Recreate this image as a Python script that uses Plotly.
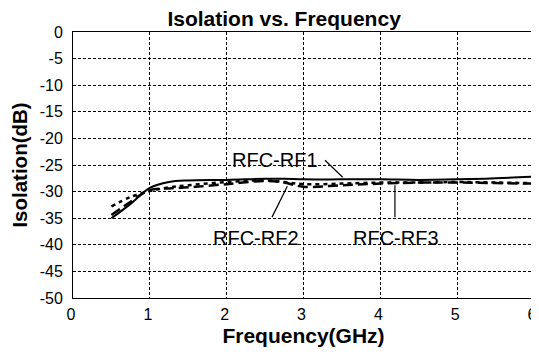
import plotly.graph_objects as go

freq = [0.5, 0.75, 1.0, 1.25, 1.5, 2.0, 2.5, 2.75, 3.0, 3.5, 4.0, 4.5, 5.0, 5.5, 6.0]
rf1 = [-35.0, -32.3, -29.3, -28.2, -27.9, -27.8, -27.6, -27.6, -27.7, -27.7, -27.7, -27.8, -27.7, -27.5, -27.2]
rf2 = [-34.4, -31.9, -29.7, -29.4, -29.2, -28.6, -28.0, -28.3, -29.1, -28.8, -28.5, -28.3, -28.3, -28.4, -28.5]
rf3 = [-32.8, -31.0, -29.9, -29.2, -28.8, -28.2, -27.9, -28.2, -28.6, -28.5, -28.3, -28.3, -28.2, -28.3, -28.4]

xticks = [0, 1, 2, 3, 4, 5, 6]
yticks = [0, -5, -10, -15, -20, -25, -30, -35, -40, -45, -50]

fig = go.Figure()
fig.add_trace(go.Scatter(x=freq, y=rf1, mode="lines", line=dict(color="black", width=2, shape="spline"), name="RFC-RF1"))
fig.add_trace(go.Scatter(x=freq, y=rf2, mode="lines", line=dict(color="black", width=2.5, dash="10px,5px", shape="spline"), name="RFC-RF2"))
fig.add_trace(go.Scatter(x=freq, y=rf3, mode="lines", line=dict(color="black", width=2.5, dash="4px,4px", shape="spline"), name="RFC-RF3"))

font = "Liberation Sans, Arial, sans-serif"

# leader lines
fig.add_shape(type="line", x0=3.28, y0=-24.1, x1=3.51, y1=-27.3, line=dict(color="black", width=1.2))
fig.add_shape(type="line", x0=2.59, y0=-34.8, x1=2.79, y1=-29.0, line=dict(color="black", width=1.2))
fig.add_shape(type="line", x0=4.19, y0=-34.8, x1=4.19, y1=-28.8, line=dict(color="black", width=1.2))

fig.add_annotation(x=2.63, y=-24.1, text="RFC-RF1", showarrow=False, font=dict(family=font, size=20, color="black"))
fig.add_annotation(x=2.38, y=-38.8, text="RFC-RF2", showarrow=False, font=dict(family=font, size=20, color="black"))
fig.add_annotation(x=4.2, y=-38.8, text="RFC-RF3", showarrow=False, font=dict(family=font, size=20, color="black"))

# page has an 8px body margin: figure sized/offset to compensate
fig.update_layout(
    width=531, height=347,
    margin=dict(l=65, r=5, t=24, b=57, autoexpand=False),
    paper_bgcolor="white", plot_bgcolor="white",
    showlegend=False,
    title=dict(text="<b>Isolation vs. Frequency</b>", x=0.52, xanchor="center", y=1 - 11 / 347, yanchor="middle",
               font=dict(family=font, size=21, color="black")),
    font=dict(family=font, size=16, color="black"),
)
fig.update_xaxes(range=[0, 6], tickvals=xticks, ticktext=[str(v) for v in xticks],
                 showline=True, mirror=True, linecolor="black", linewidth=1,
                 showgrid=True, gridcolor="black", griddash="3px,2px", gridwidth=1,
                 ticks="", zeroline=False, automargin=True, ticklabeloverflow="allow",
                 ticklabelshift=-2, ticklabelstandoff=2,
                 title=dict(text="<b>Frequency(GHz)</b>", font=dict(family=font, size=21), standoff=6),
                 tickfont=dict(family=font, size=16))
fig.update_yaxes(range=[-50, 0], tickvals=yticks, ticktext=[str(v) for v in yticks],
                 showline=True, mirror=True, linecolor="black", linewidth=1,
                 showgrid=True, gridcolor="black", griddash="3px,2px", gridwidth=1,
                 ticks="", zeroline=False, automargin=True, ticklabeloverflow="allow",
                 ticklabelstandoff=6,
                 title=dict(text="<b>Isolation(dB)</b>", font=dict(family=font, size=20.5), standoff=8),
                 tickfont=dict(family=font, size=16))

fig.write_html("out.html")
